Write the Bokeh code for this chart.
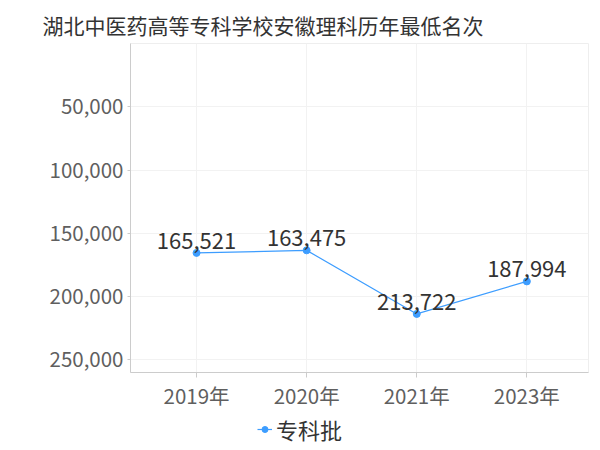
from bokeh.plotting import figure
from bokeh.layouts import column
from bokeh.models import (Range1d, FixedTicker, NumeralTickFormatter, ColumnDataSource,
                          Legend, LegendItem, LabelSet)
from bokeh.core.properties import value
from bokeh.embed import file_html
from bokeh.resources import INLINE

title_text = "湖北中医药高等专科学校安徽理科历年最低名次"
categories = ["2019年", "2020年", "2021年", "2023年"]
values = [165521, 163475, 213722, 187994]
series_name = "专科批"
y_ticks = [50000, 100000, 150000, 200000, 250000]

FONT = "Noto Sans CJK SC"
COLOR = "#3d9dff"

xs = list(range(len(categories)))
src = ColumnDataSource(dict(x=xs, y=values, label=[f"{v:,}" for v in values]))

p = figure(width=592, height=412, output_backend="svg", toolbar_location=None,
           x_range=Range1d(-0.6, 3.56), y_range=Range1d(260000, 0),
           min_border_left=130, min_border_right=4, min_border_top=43,
           min_border_bottom=40)

p.title.text = title_text
p.title.text_font = FONT
p.title.text_font_size = "21px"
p.title.text_font_style = "normal"
p.title.text_color = "#333333"
p.title.align = "left"
p.title.offset = -88
p.title.standoff = 8

line = p.line("x", "y", source=src, line_color=COLOR, line_width=1.2)
dots = p.scatter("x", "y", source=src, size=7, fill_color=COLOR, line_color=COLOR)

labels = LabelSet(x="x", y="y", text="label", source=src, y_offset=4,
                  text_align="center", text_baseline="alphabetic",
                  text_font=value(FONT), text_font_size="22px", text_color="#333333")
p.add_layout(labels)

p.xaxis.ticker = FixedTicker(ticks=xs)
p.xaxis.major_label_overrides = {i: c for i, c in zip(xs, categories)}
p.yaxis.ticker = FixedTicker(ticks=y_ticks)
p.yaxis.formatter = NumeralTickFormatter(format="0,0")

for ax in (p.xaxis, p.yaxis):
    ax.axis_line_color = "#cccccc"
    ax.major_tick_line_color = "#cccccc"
    ax.minor_tick_line_color = None
    ax.major_tick_in = 0
    ax.major_label_text_font = FONT
    ax.major_label_text_font_size = "20.5px"
    ax.major_label_text_color = "#5f5f5f"
p.xaxis.major_tick_out = 5
p.yaxis.major_tick_out = 3
p.xaxis.major_label_standoff = 2
p.yaxis.major_label_standoff = 4

p.xgrid.ticker = FixedTicker(ticks=xs)
p.ygrid.ticker = FixedTicker(ticks=[0] + y_ticks)
p.grid.grid_line_color = "#f2f2f2"
p.outline_line_color = "#eeeeee"

# legend strip below the chart (its frame is aligned with the chart's frame)
pl = figure(width=592, height=33, output_backend="svg", toolbar_location=None,
            x_range=Range1d(0, 1), y_range=Range1d(0, 1), min_border=0,
            x_axis_location=None, y_axis_location=None)
pl.grid.visible = False
pl.outline_line_color = None
lg_line = pl.line(x=[5, 6], y=[5, 6], line_color=COLOR, line_width=1.2)
lg_dot = pl.scatter(x=[5], y=[5], size=7, fill_color=COLOR, line_color=COLOR)
legend = Legend(items=[LegendItem(label=series_name, renderers=[lg_line, lg_dot])],
                location=(127, 0), orientation="horizontal",
                border_line_color=None, background_fill_alpha=0,
                label_text_font=FONT, label_text_font_size="22px",
                label_text_color="#333333", glyph_width=15, glyph_height=16,
                label_standoff=4, padding=0, margin=0)
pl.add_layout(legend)

layout = column(p, pl, spacing=0)
open("out.html", "w").write(file_html(layout, INLINE))
